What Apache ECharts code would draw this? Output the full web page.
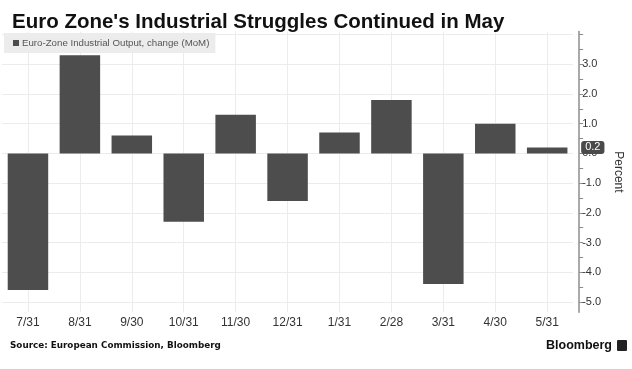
<!DOCTYPE html>
<html>
<head>
<meta charset="utf-8">
<script src="https://cdn.jsdelivr.net/npm/echarts@6/dist/echarts.min.js"></script>
<style>
html,body{margin:0;padding:0;background:#fff;}
#chart{width:632px;height:369px;}
</style>
</head>
<body>
<div id="chart"></div>
<script>
const categories = ['7/31','8/31','9/30','10/31','11/30','12/31','1/31','2/28','3/31','4/30','5/31'];
const outputChange = [-4.6, 3.3, 0.6, -2.3, 1.3, -1.6, 0.7, 1.8, -4.4, 1.0, 0.2];
const yLabelValues = [-5, -4, -3, -2, -1, 0, 1, 2, 3];
const yGridValues = [-5, -4, -3, -2, -1, 0, 1, 2, 3, 4];
const yTickValues = [-5, -4.5, -4, -3.5, -3, -2.5, -2, -1.5, -1, -0.5, 0, 0.5, 1, 1.5, 2, 2.5, 3, 3.5, 4];
const seriesName = 'Euro-Zone Industrial Output, change (MoM)';
const lastValue = outputChange[outputChange.length - 1];

const chart = echarts.init(document.getElementById('chart'), null, {renderer: 'canvas'});
const yMin = -5.35, yMax = 4.1;

chart.setOption({
  animation: false,
  backgroundColor: '#ffffff',
  title: {
    text: "Euro Zone's Industrial Struggles Continued in May",
    left: 7, top: 7,
    textStyle: {fontFamily: 'Liberation Sans', fontWeight: 'bold', fontSize: 20.5, color: '#111'}
  },
  legend: {
    left: 4, top: 33,
    backgroundColor: '#ececec',
    padding: [5, 6, 5, 9],
    icon: 'rect', itemWidth: 6, itemHeight: 6, itemGap: 4,
    textStyle: {fontFamily: 'Liberation Sans', fontSize: 9.7, color: '#555', padding: [0, 0, 0, -2]},
    data: [seriesName]
  },
  grid: {left: 2, right: 55, top: 31.6, bottom: 56.7, containLabel: false},
  xAxis: {
    type: 'category',
    data: categories,
    axisLine: {show: false},
    axisTick: {show: false, alignWithLabel: true},
    axisLabel: {fontFamily: 'Liberation Sans', fontSize: 12, color: '#333', margin: 4},
    splitLine: {show: true, alignWithLabel: true, lineStyle: {color: '#ececec', width: 1}}
  },
  yAxis: [
    {
      type: 'value', position: 'right', offset: 6,
      min: yMin, max: yMax,
      name: 'Percent', nameLocation: 'middle', nameRotate: -90, nameGap: 30,
      nameTextStyle: {fontFamily: 'Liberation Sans', fontSize: 12, color: '#333'},
      axisLine: {show: true, lineStyle: {color: '#8c8c8c', width: 1.5}},
      axisTick: {show: true, inside: false, length: 4, customValues: yTickValues, lineStyle: {color: '#8c8c8c'}},
      axisLabel: {customValues: yLabelValues, fontFamily: 'Liberation Sans', fontSize: 11, color: '#333', margin: 3,
        formatter: v => v.toFixed(1)},
      splitLine: {show: false},
      axisPointer: {
        show: true, type: 'none', value: lastValue, status: 'show', triggerTooltip: false,
        label: {show: true, backgroundColor: '#4a4a4a', color: '#fff', fontFamily: 'Liberation Sans', fontSize: 11,
          padding: [1, 4, 1, 4], margin: 2, formatter: p => Number(p.value).toFixed(1)}
      }
    },
    {
      type: 'value', position: 'right',
      min: yMin, max: yMax,
      axisLine: {show: false},
      axisTick: {show: false, customValues: yGridValues},
      axisLabel: {show: false},
      splitLine: {show: true, lineStyle: {color: '#ececec', width: 1}}
    }
  ],
  series: [{
    name: seriesName,
    type: 'bar',
    data: outputChange,
    yAxisIndex: 0,
    barWidth: '78%',
    itemStyle: {color: '#4d4d4d'}
  }],
  graphic: [
    {type: 'text', left: 10, top: 341,
      style: {text: 'Source: European Commission, Bloomberg', font: 'bold 8.8px "DejaVu Sans"', fill: '#111'}},
    {type: 'text', right: 20, top: 339,
      style: {text: 'Bloomberg', font: 'bold 12.5px "Liberation Sans"', fill: '#111'}},
    {type: 'rect', right: 5, top: 340, shape: {width: 10, height: 11, r: 1}, style: {fill: '#222'}}
  ]
});
</script>
</body>
</html>
